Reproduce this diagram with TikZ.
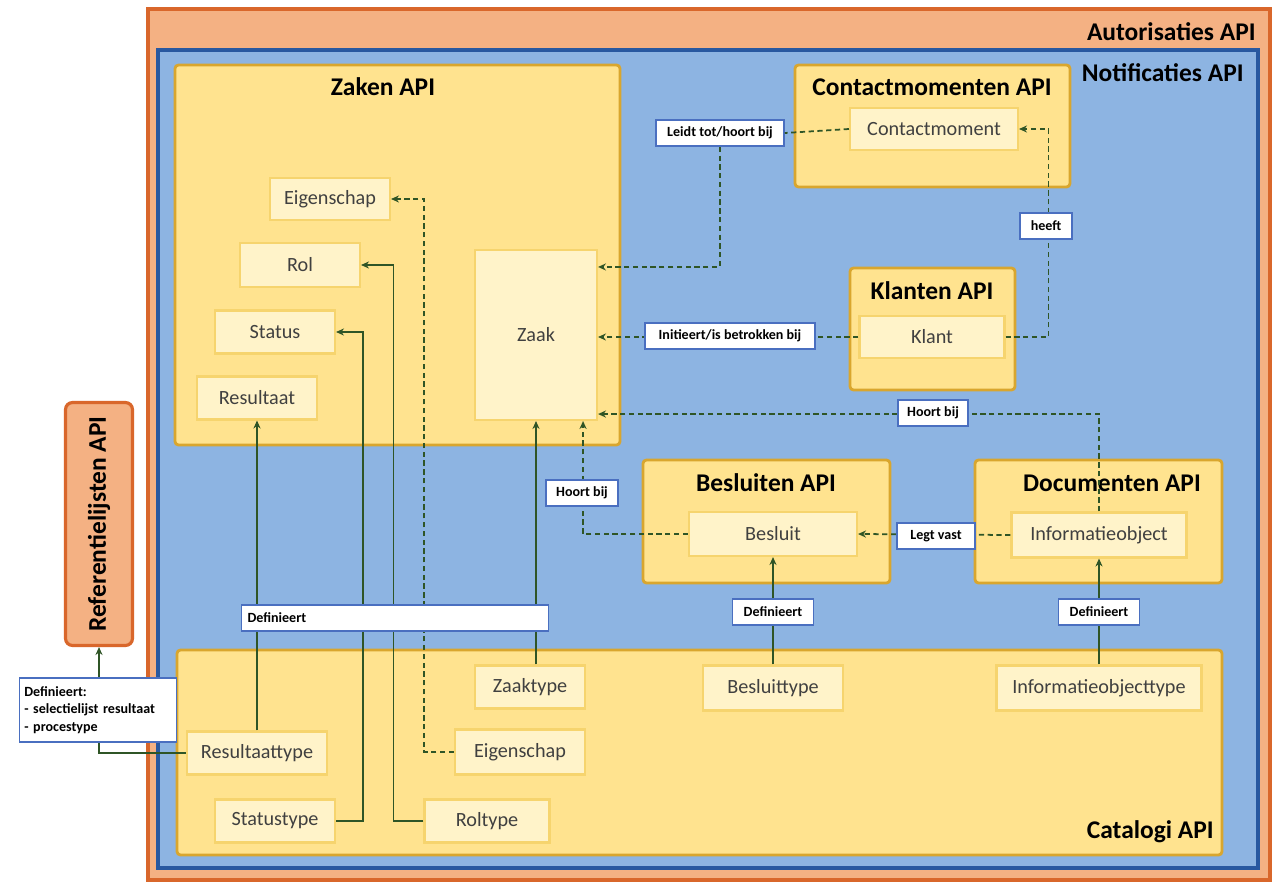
\documentclass[tikz,border=0pt]{standalone}
\usepackage{fontspec}
\setmainfont{Carlito}
\usetikzlibrary{arrows.meta,calc}
\definecolor{orfill}{HTML}{F4B183}
\definecolor{orline}{HTML}{D9672B}
\definecolor{blfill}{HTML}{8DB4E2}
\definecolor{blline}{HTML}{2858A0}
\definecolor{yefill}{HTML}{FFE38F}
\definecolor{yeline}{HTML}{D9A62E}
\definecolor{itfill}{HTML}{FFF3C9}
\definecolor{itline}{HTML}{F6D46E}
\definecolor{lbline}{HTML}{4A6FC0}
\definecolor{grline}{HTML}{2F5526}
\definecolor{txgray}{HTML}{404040}
\tikzset{
  apibox/.style={draw=yeline, fill=yefill, line width=1.6pt, rounded corners=2pt},
  apititle/.style={font=\fontsize{14.5}{16}\selectfont\bfseries, inner sep=0pt},
  item/.style={draw=itline, fill=itfill, line width=1.2pt, text=txgray,
    font=\fontsize{11.5}{13}\selectfont, inner sep=0pt},
  lbl/.style={draw=lbline, fill=white, line width=0.9pt, text=black,
    font=\fontsize{8}{9.5}\selectfont\bfseries, inner sep=1pt, minimum height=0.52cm},
  defline/.style={draw=grline, line width=1pt, -{Stealth[length=4.5pt,width=4pt]}},
  assoc/.style={draw=grline, line width=1pt, dash pattern=on 3pt off 2pt, -{Stealth[length=4.5pt,width=4pt]}},
  plainline/.style={draw=grline, line width=1pt},
  plaindash/.style={draw=grline, line width=1pt, dash pattern=on 3pt off 2pt}
}
\begin{document}
\begin{tikzpicture}[x=0.02cm,y=-0.02cm]
\useasboundingbox (0,0) rectangle (1284,889);
\fill[white] (0,0) rectangle (1284,889);
% Autorisaties
\draw[draw=orline, fill=orfill, line width=2pt] (148,9) rectangle (1270,880);
\node[apititle, anchor=east] (autlbl) at (1256,32) {Autorisaties API};
% Notificaties
\draw[draw=blline, fill=blfill, line width=2pt] (158,50) rectangle (1258,868);
\node[apititle, anchor=east] (notlbl) at (1244,73) {Notificaties API};
% Referentielijsten
\node[draw=orline, fill=orfill, line width=1.8pt, rounded corners=4pt,
  minimum width=4.86cm, minimum height=1.34cm, rotate=90,
  font=\fontsize{14.5}{16}\selectfont\bfseries] (ref) at (99,524) {Referentielijsten API};
% Zaken API
\draw[apibox] (175,65) rectangle (620,445);
\node[apititle] (zakent) at (383,87) {Zaken API};
\node[item, minimum width=2.4cm, minimum height=0.84cm] (zeig) at (330,199) {Eigenschap};
\node[item, minimum width=2.4cm, minimum height=0.88cm] (zrol) at (300,265) {Rol};
\node[item, minimum width=2.4cm, minimum height=0.86cm] (zstat) at (275,332) {Status};
\node[item, minimum width=2.4cm, minimum height=0.86cm] (zres) at (257,398) {Resultaat};
\node[item, minimum width=2.44cm, minimum height=3.4cm] (zaak) at (536,335) {Zaak};
% Contactmomenten API
\draw[apibox] (795,65) rectangle (1070,187);
\node[apititle] (cmt) at (932,87) {Contactmomenten API};
\node[item, minimum width=3.36cm, minimum height=0.84cm] (cm) at (934,129) {Contactmoment};
% Klanten API
\draw[apibox] (850,268) rectangle (1015,390);
\node[apititle] (klt) at (932,291) {Klanten API};
\node[item, minimum width=2.9cm, minimum height=0.84cm] (klant) at (932,337) {Klant};
% Besluiten API
\draw[apibox] (643,460) rectangle (890,583);
\node[apititle] (bst) at (766,483) {Besluiten API};
\node[item, minimum width=3.36cm, minimum height=0.88cm] (besluit) at (773,534) {Besluit};
% Documenten API
\draw[apibox] (975,460) rectangle (1222,583);
\node[apititle] (dct) at (1112,483) {Documenten API};
\node[item, minimum width=3.5cm, minimum height=0.9cm] (io) at (1099,535) {Informatieobject};
% Catalogi API
\draw[apibox] (177,650) rectangle (1222,855);
\node[apititle, anchor=east] (catt) at (1214,832) {Catalogi API};
\node[item, minimum width=2.2cm, minimum height=0.86cm] (zaaktype) at (530,687) {Zaaktype};
\node[item, minimum width=2.8cm, minimum height=0.9cm] (besluittype) at (773,688) {Besluittype};
\node[item, minimum width=4.1cm, minimum height=0.9cm] (iotype) at (1099,688) {Informatieobjecttype};
\node[item, minimum width=2.8cm, minimum height=0.86cm] (resultaattype) at (257,753) {Resultaattype};
\node[item, minimum width=2.6cm, minimum height=0.9cm] (ceig) at (520,752) {Eigenschap};
\node[item, minimum width=2.4cm, minimum height=0.86cm] (statustype) at (275,821) {Statustype};
\node[item, minimum width=2.5cm, minimum height=0.86cm] (roltype) at (487,821) {Roltype};
% Definieert connectors (solid)
\draw[defline] (resultaattype.north) -- (zres.south);
\draw[defline] (statustype.east) -- ++(27,0) |- (zstat.east);
\draw[defline] (roltype.west) -- ++(-30,0) |- (zrol.east);
\draw[assoc] (ceig.west) -- ++(-30,0) |- (zeig.east);
\draw[defline] (zaaktype.north -| zaak.south) -- (zaak.south);
\draw[defline] (besluittype.north) -- (besluit.south);
\draw[defline] (iotype.north) -- (io.south);
\draw[defline] (resultaattype.west) -| (ref.west);
% association connectors (dashed)
\draw[assoc] (besluit.west) -| ([xshift=-0.3cm]zaak.south east);
\draw[assoc] (io.north) |- ([yshift=0.14cm]zaak.south east);
\draw[assoc] (io.west) -- (besluit.east);
\draw[assoc] (klant.west) -- (klant.west -| zaak.east);
\draw[assoc] (klant.east) -- ++(43,0) |- (cm.east);
% labels
\node[lbl, minimum width=2.56cm] (l1) at (720,133) {Leidt tot/hoort bij};
\draw[plaindash] (cm.west) -- (l1.east);
\draw[assoc] (l1.south) |- ([yshift=-0.36cm]zaak.north east);
\node[lbl, minimum width=1.04cm] (l2) at (1046,226) {heeft};
\node[lbl, minimum width=3.4cm] (l3) at (730,336) {Initieert/is betrokken bij};
\node[lbl, minimum width=1.4cm] (l4) at (933,413) {Hoort bij};
\node[lbl, minimum width=1.44cm] (l5) at (582,493) {Hoort bij};
\node[lbl, minimum width=1.56cm] (l6) at (936,536) {Legt vast};
\node[lbl, minimum width=1.62cm] (l7) at (773,612) {Definieert};
\node[lbl, minimum width=1.62cm] (l8) at (1099,612) {Definieert};
\node[lbl, minimum width=6.14cm, text width=5.9cm, align=left] (l9) at (395,618) {Definieert};
\node[lbl, minimum width=3.14cm, minimum height=1.28cm, text width=2.95cm, align=left,
  font=\fontsize{8}{10}\selectfont\bfseries] (l10) at (98,710)
  {Definieert:\\- selectielijst resultaat\\- procestype};
\end{tikzpicture}
\end{document}
